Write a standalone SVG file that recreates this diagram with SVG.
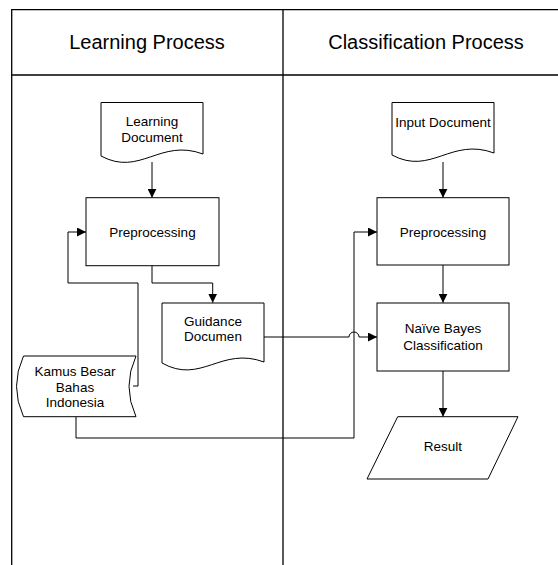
<svg xmlns="http://www.w3.org/2000/svg" width="558" height="565" viewBox="0 0 558 565">
<defs>
<marker id="ah" viewBox="0 0 10 10" refX="10" refY="5" markerWidth="9" markerHeight="9" markerUnits="userSpaceOnUse" orient="auto">
<path d="M0,0 L10,5 L0,10 z" fill="#000"/>
</marker>
<style>
.lane{fill:none;stroke:#000;stroke-width:1.3}
.shape{fill:#fff;stroke:#000;stroke-width:1}
.conn{fill:none;stroke:#000;stroke-width:1;marker-end:url(#ah)}
.line{fill:none;stroke:#000;stroke-width:1}
.hdr{font-family:"Liberation Sans",Arial,sans-serif;font-size:20px;text-anchor:middle;fill:#000}
.lbl{font-family:"Liberation Sans",Arial,sans-serif;font-size:13.5px;text-anchor:middle;fill:#000}
</style>
</defs>
<rect width="558" height="565" fill="#fff"/>
<g id="lanes">
<path class="lane" d="M11.7,565 V9.6 H558 M283,9.6 V565 M11.7,75 H558"/>
<text class="hdr" x="147" y="49">Learning Process</text>
<text class="hdr" x="426" y="49">Classification Process</text>
</g>
<g id="connectors">
<path class="conn" d="M152,162 V197.7"/>
<path class="conn" d="M152,265.7 V283 H212.7 V302.7"/>
<path class="conn" d="M133,386 H138 V283 H68 V232 H86"/>
<path class="conn" d="M264,337 H349 A5,5 0 0 1 359,337 H377"/>
<path class="conn" d="M76,416.7 V438 H354 V232 H377"/>
<path class="conn" d="M443,162 V197.7"/>
<path class="conn" d="M443,265 V302.7"/>
<path class="conn" d="M443,371 V416.7"/>
</g>
<g id="learning-document">
<path class="shape" d="M101,156 V102.5 H203 V154 C160,138 140,177 101,156 z"/>
<text class="lbl" x="152" y="126">Learning</text>
<text class="lbl" x="152" y="142">Document</text>
</g>
<g id="preprocessing-learning">
<rect class="shape" x="86" y="197.7" width="133" height="68"/>
<text class="lbl" x="152.5" y="236.5">Preprocessing</text>
</g>
<g id="guidance-document">
<path class="shape" d="M162,363 V303 H264 V362 C221,346 201,385 162,363 z"/>
<text class="lbl" x="213" y="325.5">Guidance</text>
<text class="lbl" x="213" y="341">Documen</text>
</g>
<g id="kamus">
<path class="shape" d="M23.5,356 H136 Q122,386.4 136,416.7 H23.5 Q9.5,386.4 23.5,356 z"/>
<text class="lbl" x="75" y="375.5">Kamus Besar</text>
<text class="lbl" x="75" y="391.5">Bahas</text>
<text class="lbl" x="75" y="407">Indonesia</text>
</g>
<g id="input-document">
<path class="shape" d="M392,155 V102.5 H494 V153 C451,137 431,176 392,155 z"/>
<text class="lbl" x="443" y="126.5">Input Document</text>
</g>
<g id="preprocessing-classification">
<rect class="shape" x="377" y="197.7" width="132" height="67.3"/>
<text class="lbl" x="443" y="236.5">Preprocessing</text>
</g>
<g id="naive-bayes">
<rect class="shape" x="377" y="303" width="132" height="68"/>
<text class="lbl" x="443" y="332.5">Naïve Bayes</text>
<text class="lbl" x="443" y="349.5">Classification</text>
</g>
<g id="result">
<path class="shape" d="M397.7,416.7 H518 L488,479 H367 z"/>
<text class="lbl" x="443" y="450.5">Result</text>
</g>
</svg>
